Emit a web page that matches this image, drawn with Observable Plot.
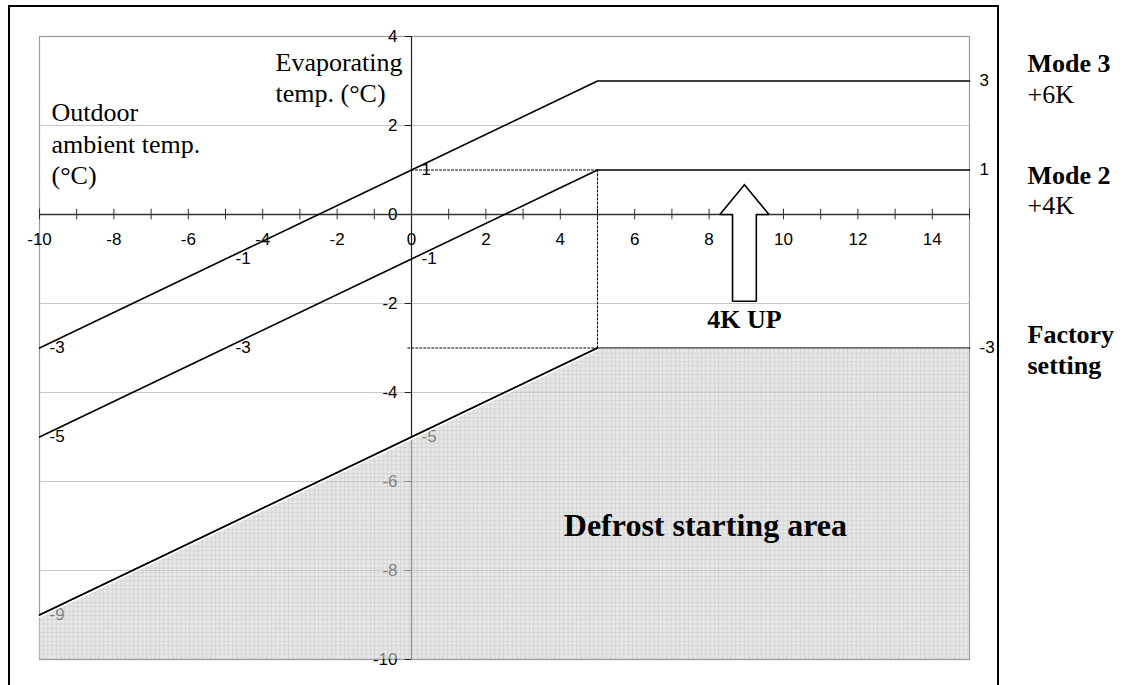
<!DOCTYPE html>
<html><head><meta charset="utf-8">
<script src="https://cdn.jsdelivr.net/npm/d3@7"></script>
<script src="https://cdn.jsdelivr.net/npm/@observablehq/plot@0.6"></script>
<style>
body{margin:0;background:#fff;}
#wrap{position:relative;width:1133px;height:685px;overflow:hidden;}
#frame{position:absolute;left:8px;top:5px;width:991px;height:720px;border:2px solid #000;box-sizing:border-box;pointer-events:none;}
</style></head><body><div id="wrap"><div id="chart"></div><div id="frame"></div></div>
<script>
// ---- data ----
const outdoorTemp = [-10, -5, 0, 5, 15];
const mode3 = [-3, -1, 1, 3, 3];
const mode2 = [-5, -3, -1, 1, 1];
const factory = [-9, -7, -5, -3, -3];
const mode3LabelAt = [-10, -5, 0, 15];
const mode2LabelAt = [-10, -5, 0, 15];
const factoryLabelAt = [-10, 0, 15];
const xTickValues = d3.range(-10, 16, 1);
const xTickLabels = d3.range(-10, 16, 2);
const yTickValues = d3.range(-10, 5, 2);
const yGrid = [-8, -6, -4, -2, 2, 4];
const arrowX = [8.95, 9.61, 9.27, 9.27, 8.63, 8.63, 8.29, 8.95];
const arrowY = [0.67, 0, 0, -1.95, -1.95, 0, 0, 0.67];

const toPts = (vals) => outdoorTemp.map((x, i) => ({x, y: vals[i]}));
const m3 = toPts(mode3), m2 = toPts(mode2), fs = toPts(factory);
const labelPts = (vals, at) => toPts(vals).filter(d => at.includes(d.x));
const arrow = arrowX.map((x, i) => ({x, y: arrowY[i]}));
const kneeX = outdoorTemp[3];
const guides = [
  [{x: 0, y: mode2[3]}, {x: kneeX, y: mode2[3]}],
  [{x: kneeX, y: mode2[3]}, {x: kneeX, y: factory[3]}],
  [{x: -0.1, y: factory[3]}, {x: kneeX, y: factory[3]}]
];

const SANS = "'Liberation Sans', Arial, sans-serif";
const SERIF = "'Liberation Serif', 'Times New Roman', serif";
const FS = 17;
const lbl = {fontFamily: SANS, fontSize: FS, fill: "#000", textAnchor: "start", dx: 10};

const chart = Plot.plot({
  width: 1133, height: 685,
  marginLeft: 39, marginRight: 164, marginTop: 36, marginBottom: 26,
  x: {domain: [-10, 15], axis: null},
  y: {domain: [-10, 4], axis: null},
  style: {background: "transparent", fontFamily: SANS},
  marks: [
    Plot.ruleY(yGrid, {stroke: "#c8c8c8", strokeWidth: 1}),
    Plot.frame({stroke: "#9c9c9c", strokeWidth: 1.2}),
    // y axis
    Plot.ruleX([0], {stroke: "#222", strokeWidth: 1.2}),
    Plot.ruleY(yTickValues, {x1: -0.17, x2: 0, stroke: "#222"}),
    Plot.text(yTickValues, {x: 0, y: d => d, text: d => String(d), dx: -14, textAnchor: "end", fontFamily: SANS, fontSize: FS, fill: "#000"}),
    // factory series (under shading) + labels
    Plot.line(fs, {x: "x", y: "y", stroke: "#000", strokeWidth: 1.5}),
    Plot.text(labelPts(factory, factoryLabelAt), {x: "x", y: "y", text: d => String(d.y), ...lbl}),
    // shaded defrost area
    Plot.areaY(fs, {x: "x", y1: -10, y2: "y", fill: "url(#defrostPattern)", fillOpacity: 0.62}),
    Plot.line(fs.filter(d => d.x <= kneeX), {x: "x", y: "y", stroke: "#fff", strokeWidth: 1.5, dy: 2}),
    Plot.line(fs.filter(d => d.x <= kneeX), {x: "x", y: "y", stroke: "#000", strokeWidth: 1.6}),
    // x axis at y = 0
    Plot.ruleY([0], {stroke: "#333", strokeWidth: 1.5}),
    Plot.ruleX(xTickValues, {x: d => d, y1: -0.12, y2: 0.12, stroke: "#333"}),
    Plot.text(xTickLabels, {x: d => d, y: 0, text: d => String(d), dy: 25, fontFamily: SANS, fontSize: FS, fill: "#000"}),
    // dotted guides
    ...guides.map(g => Plot.line(g, {x: "x", y: "y", stroke: "#000", strokeWidth: 1, strokeDasharray: "2,2"})),
    // mode lines
    Plot.line(m3, {x: "x", y: "y", stroke: "#000", strokeWidth: 1.6}),
    Plot.line(m2, {x: "x", y: "y", stroke: "#000", strokeWidth: 1.6}),
    Plot.text(labelPts(mode3, mode3LabelAt), {x: "x", y: "y", text: d => String(d.y), ...lbl}),
    Plot.text(labelPts(mode2, mode2LabelAt), {x: "x", y: "y", text: d => String(d.y), ...lbl}),
    // arrow
    Plot.line(arrow, {x: "x", y: "y", stroke: "#000", fill: "#fff", strokeWidth: 1.6, strokeLinejoin: "miter"}),
    Plot.text(["4K UP"], {x: arrowX[0], y: arrowY[3], text: d => d, dy: 18, fontFamily: SERIF, fontWeight: "bold", fontSize: 26, fill: "#000"}),
    Plot.text(["Defrost starting area"], {x: 7.9, y: -7, text: d => d, fontFamily: SERIF, fontWeight: "bold", fontSize: 32, fill: "#000"}),
    // axis titles
    Plot.text(["Evaporating\ntemp. (°C)"], {frameAnchor: "top-left", text: d => d, dx: 236, dy: 13.5, textAnchor: "start", lineAnchor: "top", lineHeight: 1.16, fontFamily: SERIF, fontSize: 26, fill: "#000"}),
    Plot.text(["Outdoor\nambient temp.\n(°C)"], {frameAnchor: "top-left", text: d => d, dx: 12, dy: 62.5, textAnchor: "start", lineAnchor: "top", lineHeight: 1.21, fontFamily: SERIF, fontSize: 26, fill: "#000"}),
    // side labels
    Plot.text(["Mode 3"], {x: 15, y: mode3[4], text: d => d, dx: 58, dy: -17.8, textAnchor: "start", fontFamily: SERIF, fontWeight: "bold", fontSize: 26, fill: "#000"}),
    Plot.text(["+6K"], {x: 15, y: mode3[4], text: d => d, dx: 58, dy: 13.2, textAnchor: "start", fontFamily: SERIF, fontSize: 26, fill: "#000"}),
    Plot.text(["Mode 2"], {x: 15, y: mode2[4], text: d => d, dx: 58, dy: 5.2, textAnchor: "start", fontFamily: SERIF, fontWeight: "bold", fontSize: 26, fill: "#000"}),
    Plot.text(["+4K"], {x: 15, y: mode2[4], text: d => d, dx: 58, dy: 35.2, textAnchor: "start", fontFamily: SERIF, fontSize: 26, fill: "#000"}),
    Plot.text(["Factory"], {x: 15, y: factory[4], text: d => d, dx: 58, dy: -13.8, textAnchor: "start", fontFamily: SERIF, fontWeight: "bold", fontSize: 26, fill: "#000"}),
    Plot.text(["setting"], {x: 15, y: factory[4], text: d => d, dx: 58, dy: 17.2, textAnchor: "start", fontFamily: SERIF, fontWeight: "bold", fontSize: 26, fill: "#000"})
  ]
});

const svg = d3.select(chart);
const defs = svg.insert("defs", ":first-child");
const pat = defs.append("pattern").attr("id", "defrostPattern")
  .attr("patternUnits", "userSpaceOnUse").attr("width", 4.3).attr("height", 4.3);
pat.append("rect").attr("width", 4.3).attr("height", 4.3).attr("fill", "#d8d8d8");
pat.append("path").attr("d", "M0,0.5H4.3M0.5,0V4.3").attr("stroke", "#b6b6b6").attr("stroke-width", 0.8).attr("fill", "none");

document.getElementById("chart").appendChild(chart);
</script>
</body></html>
